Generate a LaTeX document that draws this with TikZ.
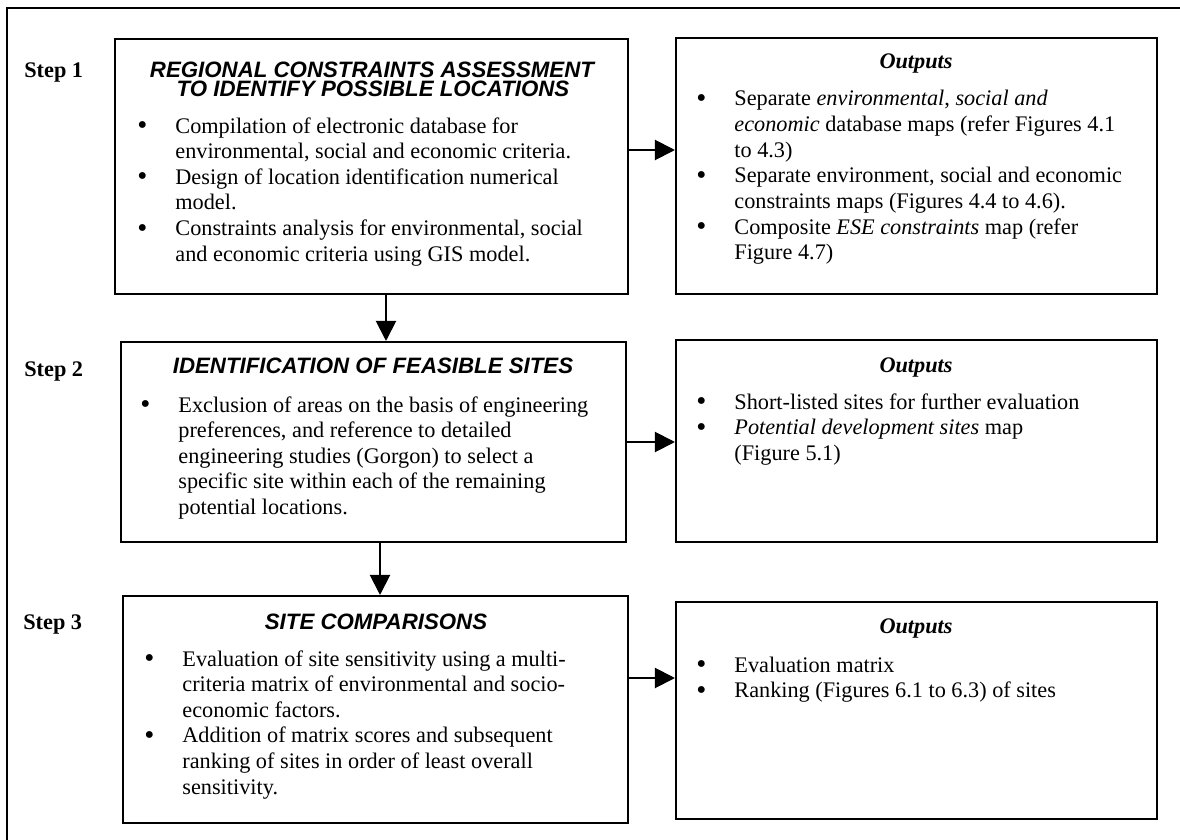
\documentclass[tikz,border=0pt]{standalone}
\usepackage{fontspec}
\setmainfont{Liberation Serif}
\newfontfamily\headfont{Liberation Sans}
\usetikzlibrary{arrows.meta, positioning, fit}

% bullet cell for the lists
\newcommand{\bul}{\raisebox{-0.9pt}{\fontsize{15.5}{15.5}\selectfont\textbullet} &}

\begin{document}
\begin{tikzpicture}[
      x=0.539pt, y=-0.539pt,
      box/.style={draw, line width=1.1pt, inner sep=0},
      head/.style={anchor=base, inner sep=0,
                   font=\headfont\fontsize{12}{14}\selectfont\bfseries\itshape},
      outhead/.style={anchor=base, inner sep=0,
                      font=\fontsize{12}{14}\selectfont\bfseries\itshape},
      steplabel/.style={anchor=base west, inner sep=0,
                        font=\fontsize{12}{14}\selectfont\bfseries},
      body/.style={anchor=base west, inner sep=0,
                   font=\fontsize{12}{13.8}\selectfont},
      arr/.style={line width=1.1pt, -{Triangle[length=10.8pt, width=10.8pt]}},
    ]
    \useasboundingbox (0,0) rectangle (1180,840);

    % outer frame
    \draw[line width=1.1pt] (7,860) -- (7,8) -- (1200,8);

    % ---- step labels ----
    \node[steplabel] (lab1) at (24,77) {Step 1};
    \node[steplabel] (lab2) at (24,376) {Step 2};
    \node[steplabel] (lab3) at (23,629) {Step 3};

    % ---- LEFT: process boxes ----
    \node[box, fit={(115,39) (628,294)}] (s1) {};
    \node[box, fit={(121,342) (626,542)}] (s2) {};
    \node[box, fit={(123,596) (628,823)}] (s3) {};

    \node[head] (s1head) at (372,77) {REGIONAL CONSTRAINTS ASSESSMENT};
    \node[head] (s1headb) at (373,97) {TO IDENTIFY POSSIBLE LOCATIONS};
    \node[body] (s1text) at (137,133) {\begin{tabular}[t]{@{}p{20.5pt}@{}l@{}}
      \bul Compilation of electronic database for\\
          & environmental, social and economic criteria.\\
      \bul Design of location identification numerical\\
          & model.\\
      \bul Constraints analysis for environmental, social\\
          & and economic criteria using GIS model.
    \end{tabular}};

    \node[head] (s2head) at (373,373) {IDENTIFICATION OF FEASIBLE SITES};
    \node[body] (s2text) at (140,412) {\begin{tabular}[t]{@{}p{20.5pt}@{}l@{}}
      \bul Exclusion of areas on the basis of engineering\\
          & preferences, and reference to detailed\\
          & engineering studies (Gorgon) to select a\\
          & specific site within each of the remaining\\
          & potential locations.
    \end{tabular}};

    \node[head] (s3head) at (376,629) {SITE COMPARISONS};
    \node[body] (s3text) at (144,666) {\begin{tabular}[t]{@{}p{20.5pt}@{}l@{}}
      \bul Evaluation of site sensitivity using a multi-\\
          & criteria matrix of environmental and socio-\\
          & economic factors.\\
      \bul Addition of matrix scores and subsequent\\
          & ranking of sites in order of least overall\\
          & sensitivity.
    \end{tabular}};

    % ---- RIGHT: outputs ----
    \node[box, fit={(676,38) (1157,294)}] (o1) {};
    \node[box, fit={(676,340) (1157,542)}] (o2) {};
    \node[box, fit={(676,602) (1157,819)}] (o3) {};

    \node[outhead] (o1head) at (916,68) {Outputs};
    \node[body] (o1text) at (696,106) {\begin{tabular}[t]{@{}p{20.5pt}@{}l@{}}
      \bul Separate \textit{environmental}, \textit{social and}\\
          & \textit{economic} database maps (refer Figures 4.1\\
          & to 4.3)\\
      \bul Separate environment, social and economic\\
          & constraints maps (Figures 4.4 to 4.6).\\
      \bul Composite \textit{ESE constraints} map (refer\\
          & Figure 4.7)
    \end{tabular}};

    \node[outhead] (o2head) at (916,372) {Outputs};
    \node[body] (o2text) at (696,409) {\begin{tabular}[t]{@{}p{20.5pt}@{}l@{}}
      \bul Short-listed sites for further evaluation\\
      \bul \textit{Potential development sites} map\\
          & (Figure 5.1)
    \end{tabular}};

    \node[outhead] (o3head) at (916,633) {Outputs};
    \node[body] (o3text) at (696,672) {\begin{tabular}[t]{@{}p{20.5pt}@{}l@{}}
      \bul Evaluation matrix\\
      \bul Ranking (Figures 6.1 to 6.3) of sites
    \end{tabular}};

    % Arrows
    \draw[arr] (s1.east |- 0,150) -- (o1.west |- 0,150);
    \draw[arr] (s2.east |- 0,442) -- (o2.west |- 0,442);
    \draw[arr] (s3.east |- 0,678) -- (o3.west |- 0,678);
    \draw[arr] (s1.south -| 386,0) -- (s2.north -| 386,0);
    \draw[arr] (s2.south -| 380,0) -- (s3.north -| 380,0);

  \end{tikzpicture}
\end{document}
